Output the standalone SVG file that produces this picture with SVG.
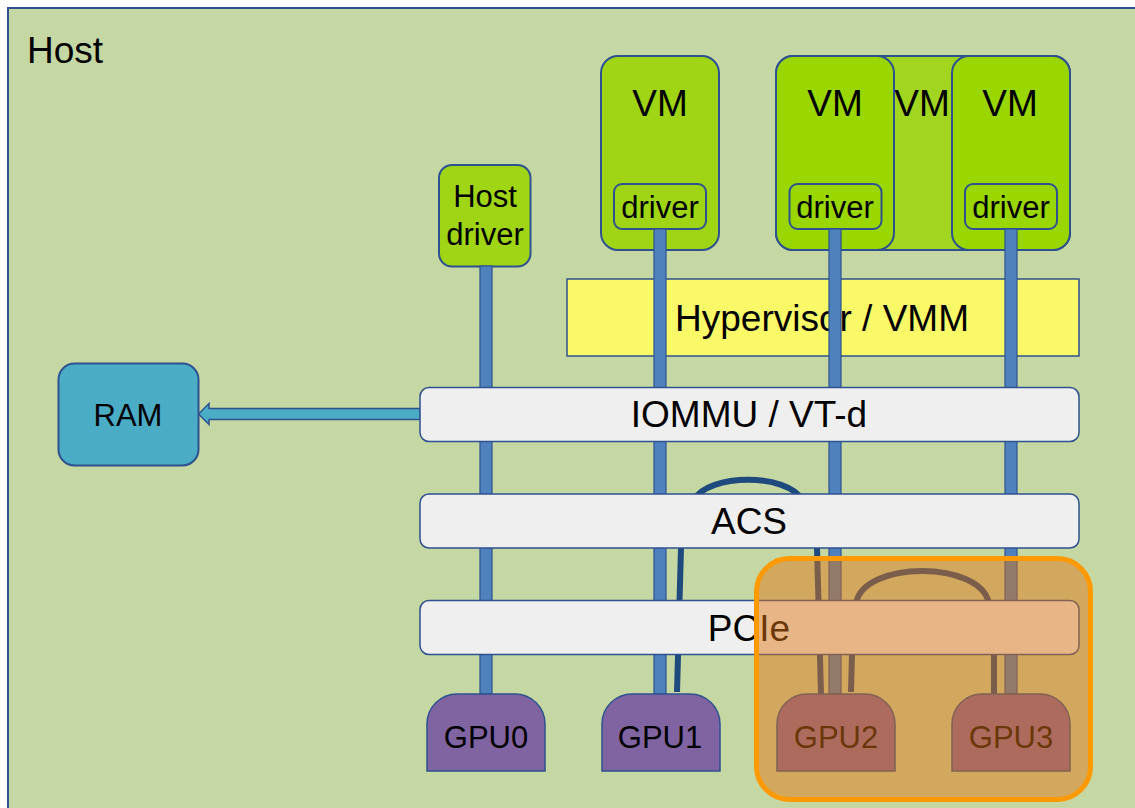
<svg xmlns="http://www.w3.org/2000/svg" width="1135" height="808" viewBox="0 0 1135 808">
<style>
text{font-family:"Liberation Sans",Arial,sans-serif;fill:#000;text-anchor:middle}
.ln{stroke:#2E528F;stroke-width:1.5}
.vm{fill:#9AD600;stroke:#2E528F;stroke-width:2}
.vm1{fill:#9FD514;stroke:#2E528F;stroke-width:2}
.bus{fill:#EFEFEF;stroke:#2E528F;stroke-width:1.5}
.bar{fill:#4F81BD;stroke:#2E528F;stroke-width:1.2}
.gpu{fill:#8064A2;stroke:#2E528F;stroke-width:1.5}
.curve{fill:none;stroke:#1F4A7E;stroke-width:6;stroke-linejoin:round;stroke-linecap:butt}
.big{font-size:37px}
.mid{font-size:31px}
</style>
<rect width="1135" height="808" fill="#FFFFFF"/>
<g id="host">
<rect x="8" y="8" width="1140" height="820" fill="#C5D7A3" stroke="#2E528F" stroke-width="2"/>
<text x="65" y="63" class="big">Host</text>
</g>
<g id="vm-cluster">
<rect x="776" y="56" width="294" height="194" rx="17" fill="#A1D51F" stroke="#2E528F" stroke-width="2"/>
<text x="922" y="116" class="big">VM</text>
</g>
<g id="vm2">
<rect x="776" y="56" width="118" height="194" rx="17" class="vm"/>
<text x="835" y="116" class="big">VM</text>
<rect x="789.5" y="184" width="92" height="45" rx="8" class="vm"/>
<text x="835" y="218" class="mid">driver</text>
</g>
<g id="vm4">
<rect x="952" y="56" width="118" height="194" rx="17" class="vm"/>
<text x="1010" y="116" class="big">VM</text>
<rect x="965" y="184" width="92" height="45" rx="8" class="vm"/>
<text x="1011" y="218" class="mid">driver</text>
</g>
<g id="vm1">
<rect x="601" y="56" width="118" height="194" rx="17" class="vm1"/>
<text x="660" y="116" class="big">VM</text>
<rect x="614" y="184" width="92" height="45" rx="8" class="vm1"/>
<text x="660" y="218" class="mid">driver</text>
</g>
<g id="host-driver">
<rect x="439" y="165" width="91.5" height="101.5" rx="13" class="vm1"/>
<text x="485" y="207" class="mid">Host</text>
<text x="485" y="245" class="mid">driver</text>
</g>
<g id="hypervisor">
<rect x="567" y="279" width="512" height="77" fill="#FAFA69" class="ln"/>
<text x="822" y="331" class="big">Hypervisor / VMM</text>
</g>
<g id="connectors">
<rect x="480" y="266" width="12" height="428" class="bar"/>
<rect x="654" y="229" width="12" height="465" class="bar"/>
<rect x="829" y="229" width="12" height="465" class="bar"/>
<rect x="1005" y="229" width="12" height="465" class="bar"/>
<path class="curve" d="M677,692 L681,548 L694,500 C708,473 788,473 802,500 L817,548 L821,694"/>
<path class="curve" d="M851,692 L852,654 L856,604 C862,560 982,560 989,604 L994,654 L994,694"/>
<path d="M420,408.5 H209 V403.5 L198.5,414 L209,424.5 V419.5 H420 Z" fill="#4BACC6" stroke="#2E528F" stroke-width="1.5"/>
</g>
<g id="iommu">
<rect x="420" y="387.5" width="659" height="54" rx="9" class="bus"/>
<text x="749" y="427" class="big">IOMMU / VT-d</text>
</g>
<g id="acs">
<rect x="420" y="494" width="659" height="54" rx="9" class="bus"/>
<text x="749" y="534" class="big">ACS</text>
</g>
<g id="pcie">
<rect x="420" y="600.5" width="659" height="54" rx="9" class="bus"/>
<text x="749" y="641" class="big">PCIe</text>
</g>
<g id="ram">
<rect x="58.5" y="363.5" width="140" height="102" rx="16" fill="#4BACC6" stroke="#2E528F" stroke-width="2"/>
<text x="128" y="426" class="mid">RAM</text>
</g>
<g id="gpu0">
<path class="gpu" d="M427,771 V724 A30,30 0 0 1 457,694 H515 A30,30 0 0 1 545,724 V771 Z"/>
<text x="486" y="748" class="mid">GPU0</text>
</g>
<g id="gpu1">
<path class="gpu" d="M602,771 V724 A30,30 0 0 1 632,694 H690 A30,30 0 0 1 720,724 V771 Z"/>
<text x="660" y="748" class="mid">GPU1</text>
</g>
<g id="gpu2">
<path class="gpu" d="M777,771 V724 A30,30 0 0 1 807,694 H865 A30,30 0 0 1 895,724 V771 Z"/>
<text x="836" y="748" class="mid">GPU2</text>
</g>
<g id="gpu3">
<path class="gpu" d="M952,771 V724 A30,30 0 0 1 982,694 H1040 A30,30 0 0 1 1070,724 V771 Z"/>
<text x="1011" y="748" class="mid">GPU3</text>
</g>
<g id="iommu-group">
<rect x="756.5" y="558.5" width="334" height="241" rx="33" fill="rgb(224,116,19)" fill-opacity="0.476" stroke="#FF9900" stroke-width="5"/>
</g>
</svg>
